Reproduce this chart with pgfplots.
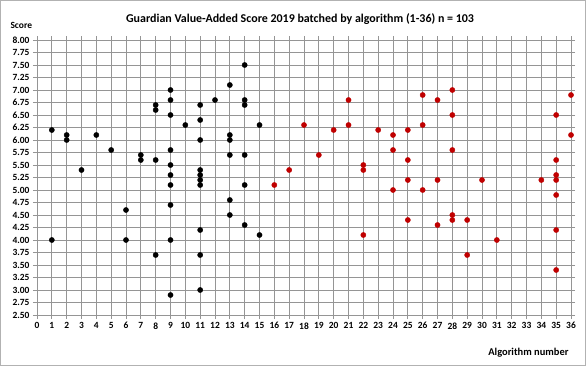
\documentclass[border=0pt]{standalone}
\usepackage{pgfplots}
\pgfplotsset{compat=1.18}
\usepackage{fontspec}
\setmainfont{Carlito}
\definecolor{gridc}{HTML}{959595}
\definecolor{ptred}{HTML}{C00000}
\begin{document}
\begin{tikzpicture}[x=1bp,y=1bp]
\draw[draw=gray!60, line width=1bp, fill=white] (0.5,0.5) rectangle (585.5,365.5);
\begin{axis}[at={(37bp,51bp)}, anchor=south west, scale only axis,
  width=534bp, height=275bp,
  xmin=0, xmax=36, ymin=2.5, ymax=8,
  xtick={0,...,36},
  ytick={2.5,2.75,3,3.25,3.5,3.75,4,4.25,4.5,4.75,5,5.25,5.5,5.75,6,6.25,6.5,6.75,7,7.25,7.5,7.75,8},
  yticklabel style={/pgf/number format/.cd, fixed, fixed zerofill, precision=2, assume math mode=true},
  xticklabel style={/pgf/number format/assume math mode=true},
  ticklabel style={font=\bfseries\fontsize{9.5}{10}\selectfont},
  grid=major,
  major grid style={draw=gridc, line width=0.8bp},
  axis line style={draw=gridc, line width=0.8bp},
  tick style={draw=gridc, line width=0.8bp},
  tick align=outside, major tick length=4bp,
  clip=false,
]
\addplot[only marks, mark=*, mark size=2.6bp, black] coordinates {
(1,6.2)(1,4.0)
(2,6.1)(2,6.0)
(3,5.4)
(4,6.1)
(5,5.8)
(6,4.6)(6,4.0)
(7,5.7)(7,5.6)
(8,6.7)(8,6.6)(8,5.6)(8,3.7)
(9,7.0)(9,6.8)(9,6.5)(9,5.8)(9,5.5)(9,5.3)(9,5.1)(9,4.7)(9,4.0)(9,2.9)
(10,6.3)
(11,6.7)(11,6.4)(11,6.0)(11,5.4)(11,5.3)(11,5.2)(11,5.1)(11,4.2)(11,3.7)(11,3.0)
(12,6.8)
(13,7.1)(13,6.1)(13,6.0)(13,5.7)(13,4.8)(13,4.5)
(14,7.5)(14,6.8)(14,6.7)(14,5.7)(14,5.1)(14,4.3)
(15,6.3)(15,4.1)
};
\addplot[only marks, mark=*, mark size=2.6bp, ptred] coordinates {
(16,5.1)
(17,5.4)
(18,6.3)
(19,5.7)
(20,6.2)
(21,6.8)(21,6.3)
(22,5.5)(22,5.4)(22,4.1)
(23,6.2)
(24,6.1)(24,5.8)(24,5.0)
(25,6.2)(25,5.6)(25,5.2)(25,4.4)
(26,6.9)(26,6.3)(26,5.0)
(27,6.8)(27,5.2)(27,4.3)
(28,7.0)(28,6.5)(28,5.8)(28,4.5)(28,4.4)
(29,4.4)(29,3.7)
(30,5.2)
(31,4.0)
(34,5.2)
(35,6.5)(35,5.6)(35,5.3)(35,5.2)(35,4.9)(35,4.2)(35,3.4)
(36,6.9)(36,6.1)
};
\end{axis}
\node[anchor=west, font=\bfseries\fontsize{9.5}{10}\selectfont] at (7,341) {Score};
\node[font=\bfseries\fontsize{12}{14}\selectfont] at (300,347) {Guardian Value-Added Score 2019 batched by algorithm (1-36) n = 103};
\node[anchor=east, font=\bfseries\fontsize{10.5}{12}\selectfont] at (572,13) {Algorithm number};
\end{tikzpicture}
\end{document}
